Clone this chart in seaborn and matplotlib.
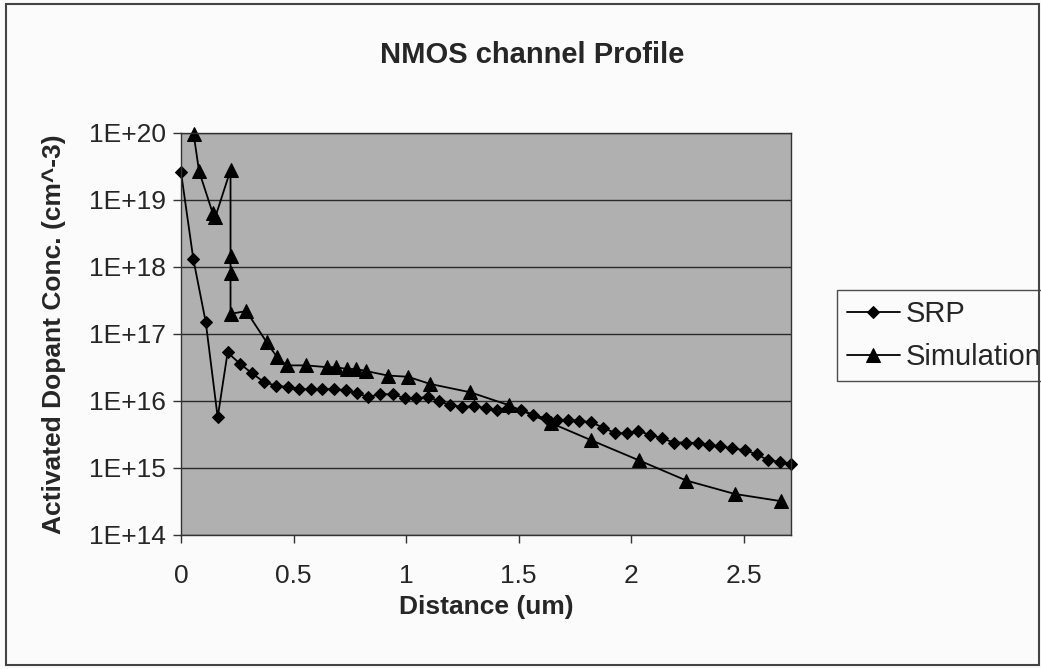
import math
import matplotlib
matplotlib.use("Agg")
import matplotlib.pyplot as plt
from matplotlib.patches import Rectangle
from matplotlib.ticker import FixedLocator, FuncFormatter, NullLocator
import pandas as pd
import seaborn as sns

# SRP measurement (distance in um, activated dopant conc. in cm^-3)
srp_x = [0, 0.055, 0.11, 0.163, 0.207, 0.262, 0.315, 0.37, 0.423, 0.476,
         0.526, 0.576, 0.628, 0.681, 0.734, 0.781, 0.832, 0.886, 0.942, 0.995,
         1.046, 1.096, 1.146, 1.196, 1.25, 1.30, 1.355, 1.403, 1.453, 1.512,
         1.566, 1.62, 1.67, 1.72, 1.77, 1.822, 1.877, 1.929, 1.981, 2.032,
         2.084, 2.136, 2.188, 2.242, 2.295, 2.345, 2.396, 2.45, 2.504, 2.558,
         2.61, 2.662, 2.712]
srp_y = [2.6e19, 1.3e18, 1.5e17, 5.7e15, 5.3e16, 3.6e16, 2.6e16, 1.9e16, 1.7e16, 1.6e16,
         1.5e16, 1.5e16, 1.5e16, 1.5e16, 1.45e16, 1.3e16, 1.15e16, 1.26e16, 1.26e16, 1.1e16,
         1.1e16, 1.15e16, 1.0e16, 8.7e15, 8.1e15, 8.5e15, 7.8e15, 7.4e15, 7.8e15, 7.4e15,
         6.2e15, 5.5e15, 5.2e15, 5.2e15, 5.1e15, 4.8e15, 4.0e15, 3.3e15, 3.3e15, 3.6e15,
         3.1e15, 2.8e15, 2.4e15, 2.4e15, 2.35e15, 2.2e15, 2.1e15, 1.96e15, 1.85e15, 1.6e15,
         1.3e15, 1.24e15, 1.15e15]

# Simulation
sim_x = [0.056, 0.08, 0.14, 0.152, 0.22, 0.22, 0.22, 0.22, 0.29, 0.381,
         0.425, 0.469, 0.556, 0.648, 0.69, 0.737, 0.779, 0.823, 0.918, 1.008,
         1.106, 1.285, 1.455, 1.643, 1.822, 2.035, 2.245, 2.46, 2.665]
sim_y = [9.8e19, 2.7e19, 6.5e18, 5.5e18, 2.8e19, 1.45e18, 8e17, 2e17, 2.2e17, 7.5e16,
         4.6e16, 3.4e16, 3.4e16, 3.2e16, 3.2e16, 3.0e16, 3.0e16, 2.8e16, 2.4e16, 2.3e16,
         1.8e16, 1.35e16, 8.7e15, 4.7e15, 2.6e15, 1.3e15, 6.5e14, 4.1e14, 3.2e14]

x_ticks = [0, 0.5, 1, 1.5, 2, 2.5]
x_labels = ["0", "0.5", "1", "1.5", "2", "2.5"]
y_ticks = [1e14, 1e15, 1e16, 1e17, 1e18, 1e19, 1e20]

srp = pd.DataFrame({"x": srp_x, "y": srp_y})
sim = pd.DataFrame({"x": sim_x, "y": sim_y})

sns.set_style("white")
plt.rcParams["font.family"] = ["Liberation Sans", "DejaVu Sans"]

fig, ax = plt.subplots(figsize=(10.41, 6.69), dpi=100)
fig.patch.set_facecolor("#fbfbfb")
fig.subplots_adjust(left=181 / 1041, right=791 / 1041, top=1 - 133 / 669, bottom=1 - 535 / 669)
ax.set_facecolor("#b0b0b0")

sns.lineplot(data=srp, x="x", y="y", ax=ax, sort=False, estimator=None, color="black",
             lw=1.3, marker="D", markersize=6.5, markeredgecolor="black", label="SRP", clip_on=False)
sns.lineplot(data=sim, x="x", y="y", ax=ax, sort=False, estimator=None, color="black",
             lw=1.3, marker="^", markersize=10, markeredgecolor="black", label="Simulation", clip_on=False)

ax.set_yscale("log")
ax.set_ylim(1e14, 1e20)
ax.set_xlim(0, 2.71)
ax.yaxis.set_major_locator(FixedLocator(y_ticks))
ax.yaxis.set_minor_locator(NullLocator())
ax.yaxis.set_major_formatter(FuncFormatter(lambda v, p: "1E+%d" % round(math.log10(v))))
ax.xaxis.set_major_locator(FixedLocator(x_ticks))
ax.set_xticklabels(x_labels)
ax.yaxis.grid(True, color="#2a2a2a", lw=1.0)
ax.set_axisbelow(True)
for s in ax.spines.values():
    s.set_color("#333333")
    s.set_linewidth(1.0)
ax.tick_params(axis="both", direction="out", length=6, width=1, color="#333333",
               labelsize=19, left=True, bottom=True)
ax.tick_params(axis="x", pad=15)
ax.tick_params(axis="y", pad=5)

fig.text(532 / 1041, 1 - 55 / 669, "NMOS channel Profile", fontsize=21, fontweight="bold",
         ha="center", va="center")
ax.set_xlabel("Distance (um)", fontsize=19, fontweight="bold", labelpad=5)
ax.set_ylabel("Activated Dopant Conc. (cm^-3)", fontsize=19, fontweight="bold", labelpad=16)

leg = ax.legend(loc="upper left", bbox_to_anchor=(837 / 1041, 1 - 290 / 669),
                bbox_transform=fig.transFigure, frameon=True, fancybox=False,
                fontsize=21, borderaxespad=0, handlelength=1.8, handletextpad=0.2,
                labelspacing=0.5, borderpad=0.35)
leg.get_frame().set_edgecolor("#222222")
leg.get_frame().set_linewidth(1.0)
leg.get_frame().set_facecolor("#fbfbfb")

fig.patches.append(Rectangle((6 / 1041, 4 / 669), 1033 / 1041, 661 / 669, transform=fig.transFigure,
                             fill=False, edgecolor="#444444", lw=1.5))

fig.savefig("out.png", dpi=100)
